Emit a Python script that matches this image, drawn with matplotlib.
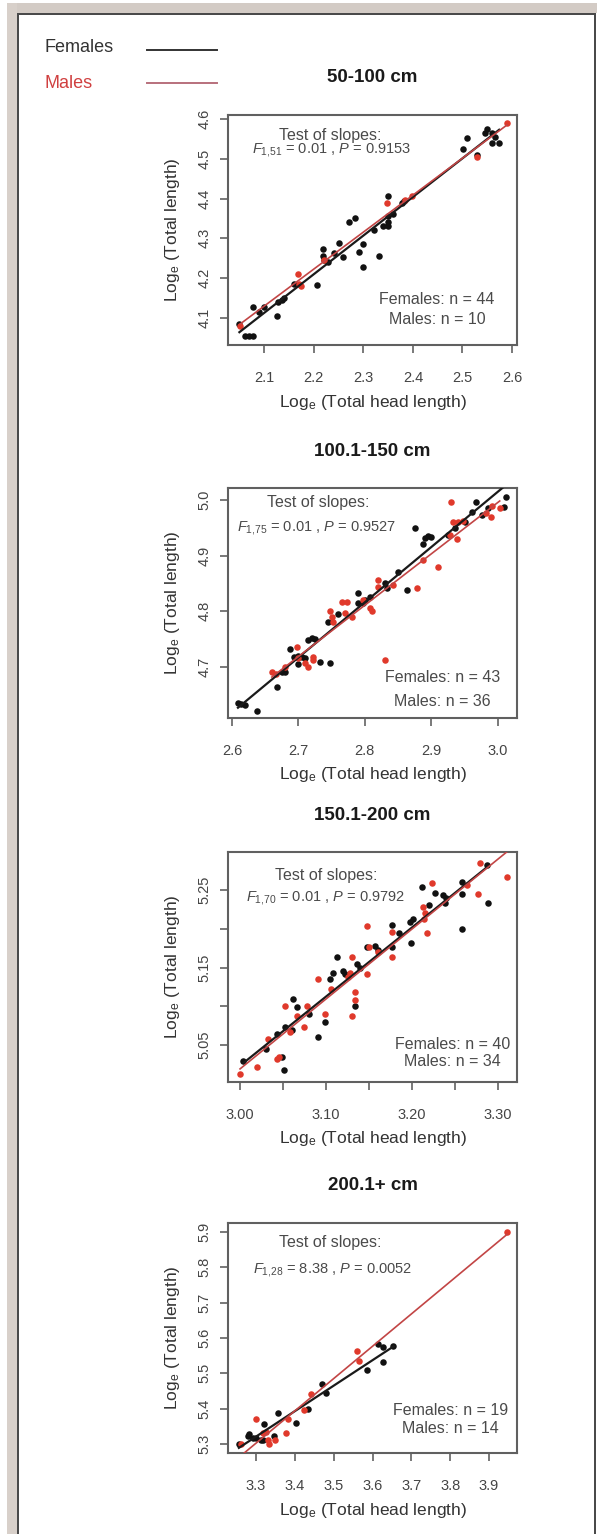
# log-log regression panels, females vs males, by size class

import numpy as np
import matplotlib
matplotlib.use('Agg')
from matplotlib import pyplot as plt
from matplotlib.patches import Rectangle

plt.rcParams['font.family'] = ['Liberation Sans', 'DejaVu Sans']
plt.rcParams['mathtext.fontset'] = 'custom'
plt.rcParams['mathtext.rm'] = 'Liberation Sans'
plt.rcParams['mathtext.it'] = 'Liberation Sans:italic'
plt.rcParams['mathtext.bf'] = 'Liberation Sans:bold'

# ---- panel 1: 50-100 cm
fem1_x = [2.050, 2.062, 2.070, 2.078, 2.078, 2.090, 2.100, 2.126, 2.128, 2.135, 2.140, 2.160,
          2.207, 2.219, 2.219, 2.221, 2.229, 2.251, 2.259, 2.271, 2.283, 2.292, 2.300, 2.300,
          2.322, 2.332, 2.350, 2.350, 2.350, 2.350, 2.340, 2.378, 2.382, 2.501, 2.509, 2.530,
          2.545, 2.550, 2.560, 2.565, 2.574, 2.560, 2.240, 2.360]
fem1_y = [4.085, 4.055, 4.055, 4.055, 4.128, 4.115, 4.128, 4.105, 4.140, 4.145, 4.150, 4.185,
          4.183, 4.274, 4.255, 4.245, 4.240, 4.288, 4.253, 4.341, 4.351, 4.266, 4.286, 4.228,
          4.320, 4.256, 4.407, 4.355, 4.340, 4.330, 4.330, 4.390, 4.395, 4.525, 4.552, 4.510,
          4.565, 4.575, 4.540, 4.555, 4.540, 4.565, 4.262, 4.360]
mal1_x = [2.052, 2.168, 2.170, 2.175, 2.220, 2.348, 2.384, 2.398, 2.530, 2.590]
mal1_y = [4.080, 4.210, 4.185, 4.180, 4.245, 4.390, 4.397, 4.407, 4.505, 4.590]

# ---- panel 2: 100.1-150 cm
fem2_x = [2.609, 2.614, 2.620, 2.638, 2.668, 2.675, 2.687, 2.693, 2.705, 2.715, 2.720, 2.725,
          2.732, 2.747, 2.745, 2.790, 2.790, 2.797, 2.800, 2.833, 2.830, 2.863, 2.875, 2.890,
          2.895, 2.900, 2.887, 2.925, 2.961, 2.968, 2.976, 3.013, 3.010, 2.700, 2.710, 2.680,
          2.760, 2.808, 2.850, 2.935, 2.950, 2.985, 2.700]
fem2_y = [4.635, 4.634, 4.632, 4.621, 4.664, 4.690, 4.732, 4.718, 4.718, 4.748, 4.752, 4.750,
          4.709, 4.707, 4.780, 4.833, 4.815, 4.815, 4.820, 4.842, 4.850, 4.838, 4.950, 4.932,
          4.936, 4.934, 4.920, 4.937, 4.978, 4.996, 4.973, 5.005, 4.987, 4.720, 4.715, 4.690,
          4.795, 4.825, 4.870, 4.950, 4.960, 4.985, 4.705]
mal2_x = [2.660, 2.667, 2.698, 2.700, 2.710, 2.715, 2.722, 2.722, 2.747, 2.750, 2.752, 2.766,
          2.773, 2.770, 2.780, 2.797, 2.807, 2.810, 2.820, 2.820, 2.830, 2.842, 2.878, 2.887,
          2.910, 2.930, 2.933, 2.940, 2.948, 2.938, 2.928, 2.983, 2.990, 2.992, 3.003, 2.680]
mal2_y = [4.690, 4.688, 4.736, 4.715, 4.707, 4.700, 4.718, 4.713, 4.800, 4.790, 4.780, 4.817,
          4.817, 4.797, 4.790, 4.820, 4.806, 4.800, 4.844, 4.856, 4.713, 4.847, 4.842, 4.892,
          4.880, 4.996, 4.960, 4.960, 4.962, 4.930, 4.937, 4.977, 4.970, 4.990, 4.985, 4.700]

# ---- panel 3: 150.1-200 cm
fem3_x = [3.004, 3.043, 3.049, 3.051, 3.052, 3.062, 3.066, 3.091, 3.099, 3.105, 3.108, 3.113,
          3.122, 3.134, 3.136, 3.148, 3.157, 3.177, 3.177, 3.198, 3.201, 3.199, 3.212, 3.227,
          3.236, 3.238, 3.258, 3.258, 3.258, 3.287, 3.288, 3.060, 3.080, 3.120, 3.160, 3.185,
          3.240, 3.140, 3.030, 3.220]
fem3_y = [5.030, 5.064, 5.035, 5.018, 5.074, 5.109, 5.099, 5.060, 5.080, 5.135, 5.143, 5.163,
          5.141, 5.100, 5.154, 5.177, 5.178, 5.205, 5.176, 5.209, 5.212, 5.182, 5.253, 5.246,
          5.243, 5.233, 5.260, 5.244, 5.199, 5.282, 5.233, 5.070, 5.090, 5.145, 5.172, 5.195,
          5.240, 5.150, 5.045, 5.230]
mal3_x = [3.000, 3.020, 3.033, 3.043, 3.052, 3.058, 3.066, 3.074, 3.078, 3.091, 3.099, 3.106,
          3.130, 3.128, 3.125, 3.130, 3.134, 3.134, 3.148, 3.148, 3.150, 3.177, 3.177, 3.213,
          3.215, 3.217, 3.223, 3.214, 3.264, 3.279, 3.277, 3.310, 3.160, 3.045]
mal3_y = [5.013, 5.022, 5.058, 5.032, 5.101, 5.067, 5.087, 5.074, 5.100, 5.135, 5.090, 5.122,
          5.164, 5.143, 5.138, 5.088, 5.118, 5.108, 5.203, 5.141, 5.176, 5.196, 5.164, 5.228,
          5.220, 5.195, 5.259, 5.212, 5.256, 5.285, 5.244, 5.267, 5.170, 5.035]

# ---- panel 4: 200.1+ cm
fem4_x = [3.256, 3.280, 3.283, 3.292, 3.300, 3.313, 3.321, 3.318, 3.346, 3.356, 3.403, 3.433,
          3.471, 3.480, 3.587, 3.613, 3.628, 3.654, 3.628]
fem4_y = [5.300, 5.322, 5.328, 5.317, 5.318, 5.310, 5.357, 5.312, 5.322, 5.388, 5.360, 5.400,
          5.470, 5.445, 5.508, 5.584, 5.573, 5.576, 5.533]
mal4_x = [3.262, 3.300, 3.318, 3.325, 3.330, 3.333, 3.350, 3.377, 3.382, 3.423, 3.441, 3.561,
          3.564, 3.946]
mal4_y = [5.300, 5.370, 5.330, 5.335, 5.312, 5.300, 5.310, 5.330, 5.370, 5.397, 5.440, 5.564,
          5.536, 5.900]

titles = ['50-100 cm', '100.1-150 cm', '150.1-200 cm', '200.1+ cm']
f_df = ['1{,}51', '1{,}75', '1{,}70', '1{,}28']
f_val = ['0.01', '0.01', '0.01', '8.38']
p_val = ['0.9153', '0.9527', '0.9792', '0.0052']
n_fem = [44, 43, 40, 19]
n_mal = [10, 36, 34, 14]

x_ticks = [[2.1, 2.2, 2.3, 2.4, 2.5, 2.6],
           [2.6, 2.7, 2.8, 2.9, 3.0],
           [3.00, 3.05, 3.10, 3.15, 3.20, 3.25, 3.30],
           [3.3, 3.4, 3.5, 3.6, 3.7, 3.8, 3.9]]
x_labels = [['2.1', '2.2', '2.3', '2.4', '2.5', '2.6'],
            ['2.6', '2.7', '2.8', '2.9', '3.0'],
            ['3.00', '', '3.10', '', '3.20', '', '3.30'],
            ['3.3', '3.4', '3.5', '3.6', '3.7', '3.8', '3.9']]
y_ticks = [[4.1, 4.2, 4.3, 4.4, 4.5, 4.6],
           [4.7, 4.8, 4.9, 5.0],
           [5.05, 5.10, 5.15, 5.20, 5.25],
           [5.3, 5.4, 5.5, 5.6, 5.7, 5.8, 5.9]]
y_labels = [['4.1', '4.2', '4.3', '4.4', '4.5', '4.6'],
            ['4.7', '4.8', '4.9', '5.0'],
            ['5.05', '', '5.15', '', '5.25'],
            ['5.3', '5.4', '5.5', '5.6', '5.7', '5.8', '5.9']]
x_lims = [(2.027, 2.610), (2.594, 3.029), (2.986, 3.322), (3.228, 3.972)]
y_lims = [(4.032, 4.610), (4.608, 5.0215), (5.0026, 5.2987), (5.2744, 5.925)]

fem_x = [fem1_x, fem2_x, fem3_x, fem4_x]
fem_y = [fem1_y, fem2_y, fem3_y, fem4_y]
mal_x = [mal1_x, mal2_x, mal3_x, mal4_x]
mal_y = [mal1_y, mal2_y, mal3_y, mal4_y]

# layout (pixels)
W, H = 597, 1534
box_left, box_right = 228, 517
box_top = [115, 488, 852, 1223]
box_h = 230
test_pos = [(0.353, 0.913, 0.357, 0.848), (0.311, 0.939, 0.305, 0.826),
            (0.340, 0.896, 0.336, 0.800), (0.353, 0.917, 0.360, 0.795)]
n_pos = [(0.723, 0.196, 0.109), (0.741, 0.174, 0.070),
         (0.778, 0.165, 0.087), (0.770, 0.183, 0.105)]

txt_grey = '#4a4a4a'
fem_col = '#111111'
mal_col = '#e0392b'
mal_line = '#c24545'

fig = plt.figure(figsize=(W / 100, H / 100), dpi=100)

# outer frame of the screenshot
def frame_rect(x0, y0, x1, y1, col):
    fig.patches.append(Rectangle((x0 / W, 1 - y1 / H), (x1 - x0) / W, (y1 - y0) / H,
                                 transform=fig.transFigure, facecolor=col, edgecolor='none',
                                 zorder=0))

frame_rect(7, 3, W, 13, '#d3cbc5')
frame_rect(7, 3, 17, H, '#d8d0ca')
frame_rect(17, 13, W - 2, 15, '#4a4a4a')
frame_rect(17, 13, 19, H, '#4a4a4a')
frame_rect(W - 3, 13, W - 1, H, '#4a4a4a')

# legend at top left
fig.text(45 / W, 1 - 48 / H, 'Females', color='#333333', fontsize=13, va='center', ha='left')
fig.text(45 / W, 1 - 83 / H, 'Males', color='#d04040', fontsize=13, va='center', ha='left')
fig.add_artist(plt.Line2D([147 / W, 217 / W], [1 - 50 / H, 1 - 50 / H], color='#333333', lw=1.4))
fig.add_artist(plt.Line2D([147 / W, 217 / W], [1 - 83 / H, 1 - 83 / H], color='#b8707c', lw=1.4))

for i in range(4):
    top = box_top[i]
    ax = fig.add_axes([box_left / W, 1 - (top + box_h) / H, (box_right - box_left) / W, box_h / H])

    ax.scatter(fem_x[i], fem_y[i], s=22, color=fem_col, zorder=3, linewidths=0)
    ax.scatter(mal_x[i], mal_y[i], s=22, color=mal_col, zorder=3, linewidths=0)

    # regression lines over the range of each group
    for xs, ys, col, lw in [(fem_x[i], fem_y[i], '#1a1a1a', 1.6), (mal_x[i], mal_y[i], mal_line, 1.2)]:
        xs = np.array(xs)
        b, a = np.polyfit(xs, np.array(ys), 1)
        xx = np.array([xs.min(), xs.max()])
        ax.plot(xx, a + b * xx, color=col, lw=lw, zorder=4)

    ax.set_xlim(x_lims[i])
    ax.set_ylim(y_lims[i])
    ax.set_xticks(x_ticks[i])
    ax.set_xticklabels(x_labels[i])
    ax.set_yticks(y_ticks[i])
    ax.set_yticklabels(y_labels[i], rotation=90, va='center')
    ax.tick_params(direction='out', length=6, width=1.1, color='#555555', labelcolor='#444444',
                   labelsize=10.5)
    ax.tick_params(axis='x', pad=13)
    ax.tick_params(axis='y', pad=6)
    for sp in ax.spines.values():
        sp.set_color('#606060')
        sp.set_linewidth(1.5)

    ax.set_xlabel(r'Log$_\mathrm{e}$ (Total head length)', fontsize=12.5, color='#333333')
    ax.xaxis.label.set_va('center')
    ax.xaxis.set_label_coords(0.5, -57 / box_h)
    ax.set_ylabel(r'Log$_\mathrm{e}$ (Total length)', fontsize=12.5, color='#333333')
    ax.yaxis.label.set_va('center')
    ax.yaxis.set_label_coords(-56 / (box_right - box_left), 0.5)

    ax.text(0.5, 1 + 37 / box_h, titles[i], transform=ax.transAxes, ha='center', va='center',
            fontsize=13.5, fontweight='bold', color='#1a1a1a')

    tx, ty, fx, fy = test_pos[i]
    ax.text(tx, ty, 'Test of slopes:', transform=ax.transAxes, ha='center', va='center',
            fontsize=11.5, color=txt_grey)
    ax.text(fx, fy, r'$F_{\mathrm{' + f_df[i] + r'}}$ = ' + f_val[i] + r' , $P$ = ' + p_val[i],
            transform=ax.transAxes, ha='center', va='center', fontsize=10.5, color=txt_grey)

    nx, nfy, nmy = n_pos[i]
    ax.text(nx, nfy, 'Females: n = ' + str(n_fem[i]), transform=ax.transAxes, ha='center',
            va='center', fontsize=11.5, color=txt_grey)
    ax.text(nx, nmy, 'Males: n = ' + str(n_mal[i]), transform=ax.transAxes, ha='center',
            va='center', fontsize=11.5, color=txt_grey)

plt.savefig('out.png', dpi=100)
plt.close()
